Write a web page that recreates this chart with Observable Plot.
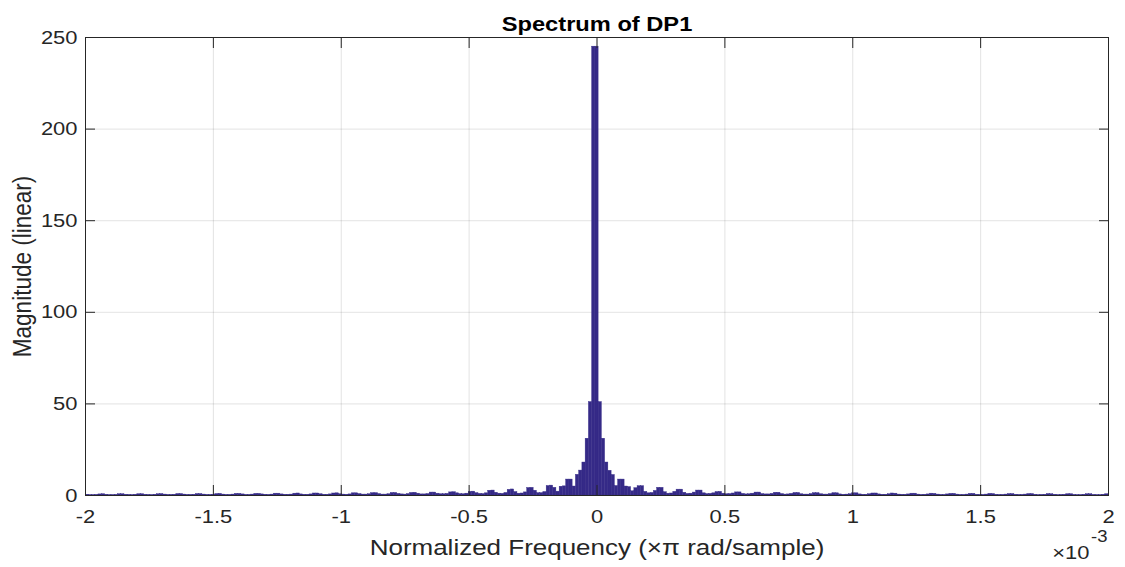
<!DOCTYPE html>
<html>
<head>
<meta charset="utf-8">
<script src="https://cdn.jsdelivr.net/npm/d3@7"></script>
<script src="https://cdn.jsdelivr.net/npm/@observablehq/plot@0.6"></script>
<style>
  html, body { margin: 0; padding: 0; background: #ffffff; }
  #chart svg { display: block; }
</style>
</head>
<body>
<div id="chart"></div>
<script>
// Frequency bin width, in units of 1e-3 (×π rad/sample)
const binWidth = 0.0127;

// Magnitudes of bins at non-negative frequency: bin r is centred at r*binWidth
const rightMag = [
  245, 51, 31, 18, 13.5, 11.2,
  5.2, 8.7, 8.7, 4.9, 4.6, 2.3,
  4.0, 5.1, 5.1, 2.0, 1.2, 1.4,
  2.5, 4.2, 4.2, 1.8, 1.0, 1.1,
  2.0, 3.2, 3.2, 1.5, 0.9, 1.0,
  1.6, 2.7, 2.7, 1.2, 0.8, 0.9,
  1.2, 1.9, 2.0, 1.0, 0.7, 0.8,
  1.1, 1.7, 1.7, 0.9, 0.6, 0.7,
  1.0, 1.6, 1.6, 0.8, 0.6, 0.6,
  0.9, 1.5, 1.5, 0.8, 0.5, 0.6,
  0.9, 1.4, 1.4, 0.7, 0.5, 0.5,
  0.8, 1.3, 1.3, 0.7, 0.5, 0.5,
  0.8, 1.3, 1.2, 0.6, 0.4, 0.5,
  0.7, 1.2, 1.2, 0.6, 0.4, 0.4,
  0.7, 1.1, 1.1, 0.6, 0.4, 0.4,
  0.7, 1.1, 1.0, 0.5, 0.4, 0.4,
  0.6, 1.0, 1.0, 0.5, 0.3, 0.4,
  0.6, 1.0, 0.9, 0.5, 0.3, 0.3,
  0.6, 0.9, 0.9, 0.5, 0.3, 0.3,
  0.5, 0.9, 0.9, 0.4, 0.3, 0.3,
  0.5, 0.9, 0.8, 0.4, 0.3, 0.3,
  0.5, 0.8, 0.8, 0.4, 0.3, 0.3,
  0.5, 0.8, 0.8, 0.4, 0.2, 0.3,
  0.4, 0.8, 0.7, 0.4, 0.2, 0.3,
  0.4, 0.7, 0.7, 0.3, 0.2, 0.2,
  0.4, 0.7, 0.7, 0.3, 0.2, 0.2,
  0.4, 0.7
];

// Magnitudes of bins at negative frequency: bin l is centred at -(l+1)*binWidth
const leftMag = [
  245, 51, 31, 18, 13.6, 11.3,
  4.9, 8.7, 8.7, 5.0, 4.8, 2.1,
  4.2, 5.4, 5.2, 1.9, 1.3, 1.3,
  2.6, 4.2, 4.1, 1.7, 1.1, 1.0,
  1.9, 3.3, 3.1, 1.4, 0.9, 1.0,
  1.5, 2.7, 2.6, 1.2, 0.8, 0.9,
  1.3, 2.1, 2.0, 1.0, 0.7, 0.8,
  1.2, 1.8, 1.7, 0.9, 0.7, 0.7,
  1.0, 1.6, 1.6, 0.8, 0.6, 0.6,
  1.0, 1.5, 1.4, 0.8, 0.5, 0.6,
  0.9, 1.4, 1.4, 0.7, 0.5, 0.5,
  0.8, 1.3, 1.3, 0.7, 0.5, 0.5,
  0.8, 1.2, 1.2, 0.6, 0.4, 0.5,
  0.7, 1.2, 1.1, 0.6, 0.4, 0.4,
  0.7, 1.1, 1.1, 0.6, 0.4, 0.4,
  0.6, 1.1, 1.0, 0.5, 0.4, 0.4,
  0.6, 1.0, 1.0, 0.5, 0.3, 0.4,
  0.6, 0.9, 0.9, 0.5, 0.3, 0.3,
  0.6, 0.9, 0.9, 0.5, 0.3, 0.3,
  0.5, 0.9, 0.8, 0.4, 0.3, 0.3,
  0.5, 0.8, 0.8, 0.4, 0.3, 0.3,
  0.5, 0.8, 0.8, 0.4, 0.3, 0.3,
  0.5, 0.8, 0.7, 0.4, 0.2, 0.3,
  0.4, 0.7, 0.7, 0.4, 0.2, 0.3,
  0.4, 0.7, 0.7, 0.3, 0.2, 0.2,
  0.4, 0.7, 0.6, 0.3, 0.2, 0.2,
  0.4, 0.6
];

const xTicks = [-2, -1.5, -1, -0.5, 0, 0.5, 1, 1.5, 2];
const yTicks = [0, 50, 100, 150, 200, 250];
const titleText = "Spectrum of DP1";
const xLabel = "Normalized Frequency (×π rad/sample)";
const yLabel = "Magnitude (linear)";
const exponentBase = "×10";
const exponentPower = "-3";

// Build bin table for the library
const bins = [];
rightMag.forEach((m, i) => {
  const c = i * binWidth;
  bins.push({x1: c - binWidth / 2, x2: c + binWidth / 2, mag: m});
});
leftMag.forEach((m, i) => {
  const c = -(i + 1) * binWidth;
  bins.push({x1: c - binWidth / 2, x2: c + binWidth / 2, mag: m});
});

const barColor = "#352A87";
const axisColor = "#262626";
const font = "'Liberation Sans', Arial, Helvetica, sans-serif";

const chart = Plot.plot({
  width: 1125,
  height: 567,
  marginTop: 37,
  marginBottom: 72,
  marginLeft: 85,
  marginRight: 17,
  style: {fontFamily: font, fontSize: "19px", color: axisColor, background: "#ffffff"},
  x: {domain: [-2, 2]},
  y: {domain: [0, 250]},
  marks: [
    Plot.gridX(xTicks, {stroke: axisColor, strokeOpacity: 0.13, strokeWidth: 1}),
    Plot.gridY(yTicks, {stroke: axisColor, strokeOpacity: 0.13, strokeWidth: 1}),
    Plot.rectY(bins, {x1: "x1", x2: "x2", y: "mag", fill: barColor, stroke: barColor, strokeWidth: 0.4, clip: true}),
    Plot.frame({stroke: axisColor, strokeWidth: 1}),
    Plot.axisX(xTicks, {anchor: "bottom", tickSize: -10, tickPadding: 24, tickFormat: d => String(d), label: null, fontSize: 19, stroke: axisColor, fill: axisColor}),
    Plot.axisX(xTicks, {anchor: "top", tickSize: -10, tickFormat: () => "", label: null, stroke: axisColor}),
    Plot.axisY(yTicks, {anchor: "left", tickSize: -10, tickPadding: 18, tickFormat: d => String(d), label: null, fontSize: 19, stroke: axisColor, fill: axisColor}),
    Plot.axisY(yTicks, {anchor: "right", tickSize: -10, tickFormat: () => "", label: null, stroke: axisColor}),
    Plot.text([titleText], {text: d => d, frameAnchor: "top", dy: -21, fontWeight: "bold", fontSize: 20.5, fill: "#000000"}),
    Plot.text([xLabel], {text: d => d, frameAnchor: "bottom", dy: 59, fontSize: 22.5, fill: axisColor}),
    Plot.text([yLabel], {text: d => d, frameAnchor: "left", dx: -63, rotate: -90, textAnchor: "middle", fontSize: 22.5, fill: axisColor}),
    Plot.text([exponentBase], {text: d => d, frameAnchor: "bottom-right", dx: -19, dy: 63, textAnchor: "end", fontSize: 19, fill: axisColor}),
    Plot.text([exponentPower], {text: d => d, frameAnchor: "bottom-right", dx: -1, dy: 46, textAnchor: "end", fontSize: 16, fill: axisColor})
  ]
});

// The reference's lettering is slightly wider than tall: widen each glyph run around its own anchor
const stretch = 1.155;
chart.querySelectorAll("text").forEach(t => {
  const tr = t.getAttribute("transform");
  if (tr == null) return;
  const rotated = /rotate\(\s*-?90/.test(tr);
  t.setAttribute("transform", tr + (rotated ? ` scale(1,${stretch})` : ` scale(${stretch},1)`));
});

document.getElementById("chart").appendChild(chart);
</script>
</body>
</html>
